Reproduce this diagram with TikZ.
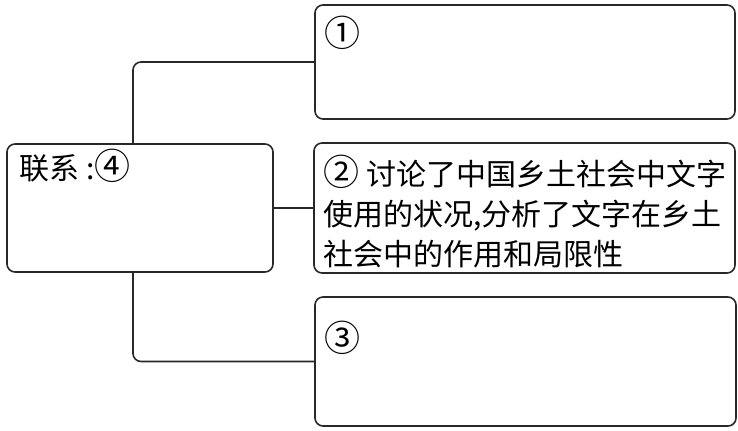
\documentclass[tikz,border=0pt]{standalone}
\usepackage{fontspec}
\newfontfamily\cjk{Noto Sans CJK SC}
\usetikzlibrary{positioning}
\definecolor{lineblack}{RGB}{40,40,40}
\newcommand\cnum[1]{{\fontsize{18pt}{20pt}\selectfont #1}}

\tikzset{
  box/.style={draw=lineblack,line width=0.8pt,rounded corners=4pt,inner sep=0pt},
  boxtext/.style={font=\cjk\fontsize{15pt}{20pt}\selectfont,inner sep=0pt,
                  anchor=north west,align=left},
  link/.style={draw=lineblack,line width=0.8pt,rounded corners=4pt}
}

\begin{document}
\begin{tikzpicture}[x=0.5pt,y=-0.5pt]
  \useasboundingbox (0,0) rectangle (738,430);
  % boxes
  \node[box,minimum width=133pt,minimum height=64pt] (lianxi) at (140,208) {};
  \node[box,minimum width=210pt,minimum height=57pt] (ans1) at (525,62) {};
  \node[box,minimum width=210.5pt,minimum height=65pt] (ans2) at (524.5,208) {};
  \node[box,minimum width=210.5pt,minimum height=64.5pt] (ans3) at (525.5,361.5) {};
  % texts
  \node[boxtext] (t4) at ([shift={(6.5pt,-2.5pt)}]lianxi.north west) {联系 :\cnum{④}};
  \node[boxtext] (t1) at ([shift={(5pt,-5.5pt)}]ans1.north west) {\cnum{①}};
  \node[boxtext] (t2) at ([shift={(5pt,-6pt)}]ans2.north west)
        {\cnum{②} 讨论了中国乡土社会中文字\\使用的状况,分析了文字在乡土\\社会中的作用和局限性};
  \node[boxtext] (t3) at ([shift={(5pt,-12pt)}]ans3.north west) {\cnum{③}};
  % connectors
  \draw[link] ([xshift=-3.5pt]lianxi.north) |- (ans1.west);
  \draw[link] (lianxi.east) -- (ans2.west);
  \draw[link] ([xshift=-3.5pt]lianxi.south) |- (ans3.west);
\end{tikzpicture}
\end{document}
